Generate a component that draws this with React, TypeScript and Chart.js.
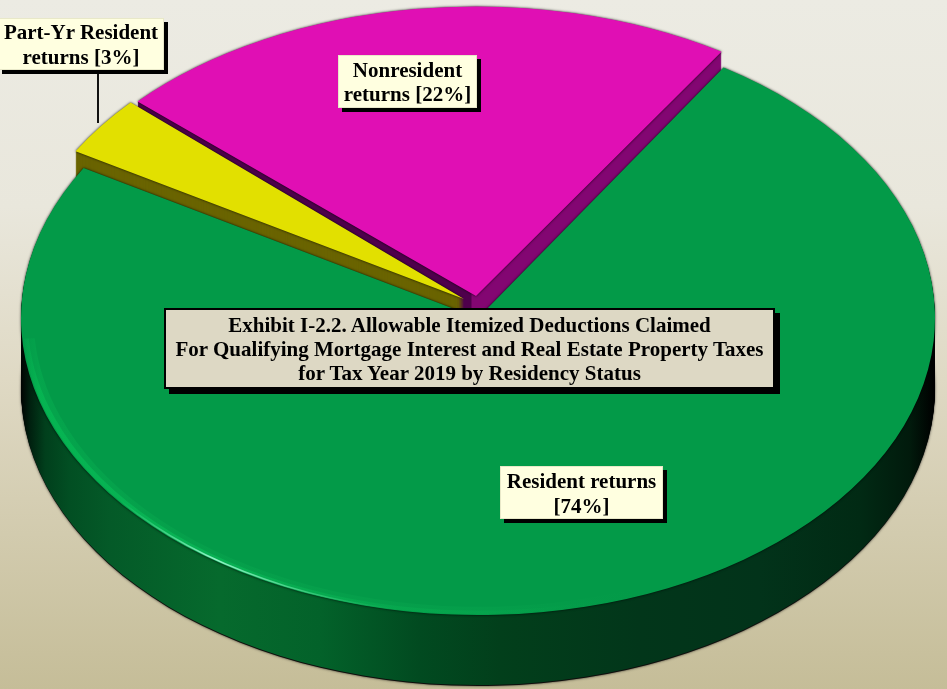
import React, { useEffect, useRef } from "react";
import { Chart, registerables } from "chart.js";

Chart.register(...registerables);

const categories = ["Resident returns", "Part-Yr Resident returns", "Nonresident returns"];
const shareValues = [74.4, 3.3, 22.3];
const shareLabels = ["[74%]", "[3%]", "[22%]"];
const titleLines = [
  "Exhibit I-2.2. Allowable Itemized Deductions Claimed",
  "For Qualifying Mortgage Interest and Real Estate Property Taxes",
  "for Tax Year 2019 by Residency Status",
];
const topColors = ["#039a48", "#e2e000", "#e00fb4"];

const CX = 478, CY = 318, RX = 457, RY = 297, DEPTH = 70;
const explode = [[0, 0], [-14, -19], [-2, -22]];
const sliceScale = [[1, 1], [0.985, 0.985], [1, 0.975]];

const warpPlugin = {
  id: "warp",
  beforeDatasetsDraw(chart: any) {
    const ctx: CanvasRenderingContext2D = chart.ctx;
    const arcs = chart.getDatasetMeta(0).data;
    const a0 = arcs[0];
    const R = a0.outerRadius, sx = RX / R, sy = RY / R;
    const gx = (px: number) => a0.x + (px - CX) / sx;
    const stopsGrad = (stops: [number, string][], from: number, to: number) => {
      const g = ctx.createLinearGradient(gx(from), 0, gx(to), 0);
      stops.forEach(([p, c]) => g.addColorStop((p - from) / (to - from), c));
      return g;
    };
    const place = (dx: number, dy: number, mx = 1, my = 1) => {
      ctx.translate(CX + dx, CY + dy);
      ctx.scale(sx * mx, sy * my);
      ctx.translate(-a0.x, -a0.y);
    };
    const drawArc = (i: number, color: any, dy: number, shadow = false) => {
      const arc = arcs[i];
      const saved = arc.options;
      arc.options = { ...saved, backgroundColor: color, borderWidth: 0 };
      ctx.save();
      if (shadow) {
        ctx.shadowColor = "rgba(0,0,0,0.9)";
        ctx.shadowBlur = 2.5;
      }
      place(explode[i][0], explode[i][1] + dy, sliceScale[i][0], sliceScale[i][1]);
      arc.draw(ctx);
      ctx.restore();
      arc.options = saved;
    };
    const sweep = (i: number, color: any) => {
      for (let d = DEPTH; d >= 1; d--) drawArc(i, color, d);
    };

    const greenWall = stopsGrad([
      [20, "#000000"], [30, "#00200f"], [45, "#013f1c"], [70, "#024f23"], [110, "#045a28"],
      [220, "#066a2d"], [320, "#03622a"], [420, "#014a20"], [500, "#023f1b"], [640, "#02361a"],
      [760, "#02331a"], [860, "#012a14"], [910, "#011a0c"], [934, "#000000"],
    ], 20, 934);
    const magentaWall = stopsGrad([
      [100, "#4f004c"], [473, "#4f004c"], [474, "#830672"], [730, "#830672"],
    ], 100, 730);

    sweep(2, magentaWall);
    sweep(1, "#6a6400");
    drawArc(0, "rgba(0,0,0,0.85)", DEPTH + 1, true);
    sweep(0, greenWall);
    drawArc(0, topColors[0], 0, true);

    // soft light along the front rim of the disc
    const rimPass = (inset: number, width: number, grad: CanvasGradient) => {
      ctx.save();
      place(0, 0);
      ctx.beginPath();
      ctx.arc(a0.x, a0.y, R - inset, (70 * Math.PI) / 180, (176 * Math.PI) / 180);
      ctx.strokeStyle = grad;
      ctx.lineWidth = width;
      ctx.stroke();
      ctx.restore();
    };
    rimPass(5, 9, stopsGrad([
      [20, "rgba(6,170,80,0)"], [40, "rgba(6,175,80,0.5)"], [200, "rgba(10,170,80,0.35)"],
      [480, "rgba(8,165,78,0.4)"], [640, "rgba(8,160,76,0)"],
    ], 20, 640));
    rimPass(3, 4, stopsGrad([
      [20, "rgba(6,190,85,0)"], [40, "rgba(6,190,85,0.6)"], [200, "rgba(10,190,90,0.6)"],
      [480, "rgba(8,175,80,0.3)"], [600, "rgba(8,170,80,0)"],
    ], 20, 600));
    rimPass(1.5, 1.6, stopsGrad([
      [120, "rgba(120,255,190,0)"], [215, "rgba(170,255,220,0.85)"], [300, "rgba(120,240,180,0.5)"],
      [400, "rgba(40,200,110,0)"],
    ], 120, 400));

    drawArc(1, topColors[1], 0, true);
    drawArc(2, topColors[2], 0, true);
    return false;
  },
};

const serif = '"Liberation Serif", "Times New Roman", serif';
const box = (left: number, top: number, width: number, height: number, extra: any = {}) => ({
  position: "absolute" as const,
  left, top, width, height,
  boxSizing: "border-box" as const,
  background: "#ffffe0",
  boxShadow: "4px 4px 0 #000",
  border: "1px solid #e8e8c8",
  color: "#000",
  fontFamily: serif,
  fontWeight: 700,
  fontSize: 21,
  lineHeight: "25px",
  textAlign: "center" as const,
  whiteSpace: "nowrap" as const,
  ...extra,
});

export default function App() {
  const ref = useRef<HTMLCanvasElement>(null);
  useEffect(() => {
    const chart = new Chart(ref.current!, {
      type: "pie",
      data: {
        labels: categories,
        datasets: [{ data: shareValues, backgroundColor: topColors, borderWidth: 0, clip: false } as any],
      },
      options: {
        responsive: false,
        animation: false,
        rotation: 32.5,
        layout: { padding: 0 },
        plugins: { legend: { display: false }, tooltip: { enabled: false }, title: { display: false } },
      },
      plugins: [warpPlugin as any],
    });
    return () => chart.destroy();
  }, []);

  return (
    <div
      style={{
        position: "fixed", left: 0, top: 0, width: 947, height: 689, overflow: "hidden",
        background: "linear-gradient(to bottom, #ecebe3 0%, #e9e7dc 30%, #dfd9c4 55%, #c5bd98 100%)",
      }}
    >
      <canvas ref={ref} width={947} height={689} style={{ position: "absolute", left: 0, top: 0, display: "block" }} />
      <div style={{ position: "absolute", left: 97, top: 70, width: 2, height: 53, background: "#111" }} />
      <div style={box(-2, 18, 166, 52, { paddingTop: 1 })}>
        Part-Yr Resident<br />{"returns " + shareLabels[1]}
      </div>
      <div style={box(338, 55, 139, 53, { paddingTop: 2, lineHeight: "24px" })}>
        Nonresident<br />{"returns " + shareLabels[2]}
      </div>
      <div style={box(500, 466, 163, 53, { paddingTop: 2 })}>
        {categories[0]}<br />{shareLabels[0]}
      </div>
      <div
        style={box(164, 308, 611, 81, {
          background: "#ddd8c4",
          border: "2px solid #000",
          boxShadow: "5px 5px 0 #000",
          lineHeight: "24px",
          paddingTop: 3,
        })}
      >
        {titleLines.map((t) => (
          <div key={t}>{t}</div>
        ))}
      </div>
    </div>
  );
}
